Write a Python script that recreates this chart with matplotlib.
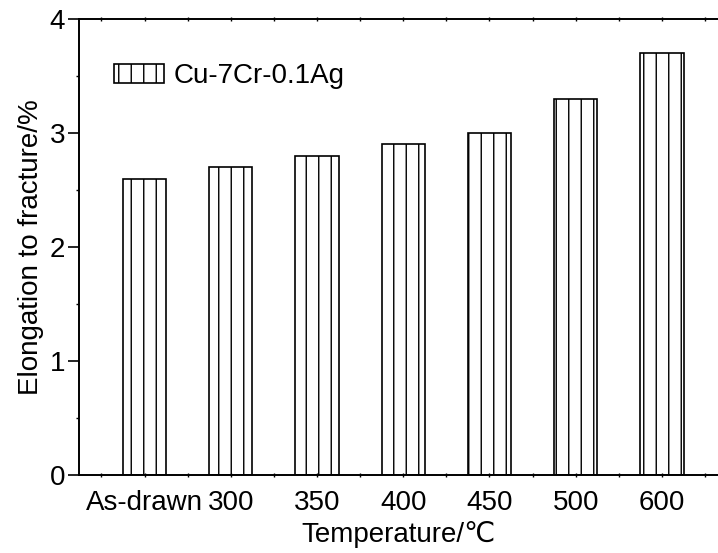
import numpy as np
import matplotlib
matplotlib.use("Agg")
from matplotlib import pyplot as plt
from matplotlib.ticker import MultipleLocator
import matplotlib.hatch as mhatch

plt.rcParams['font.family'] = ['Liberation Sans', 'DejaVu Sans']
plt.rcParams['hatch.linewidth'] = 1.0
plt.rcParams['hatch.color'] = 'black'

# a bit denser vertical hatch than the default '|'
_vinit = mhatch.VerticalHatch.__init__
def _dense_vinit(self, hatch, density):
    _vinit(self, hatch, density)
    self.num_lines = (hatch.count('|') + hatch.count('+')) * 8
    self.num_vertices = self.num_lines * 2
mhatch.VerticalHatch.__init__ = _dense_vinit

# data
categories = ['As-drawn', '300', '350', '400', '450', '500', '600']
elongation = [2.6, 2.7, 2.8, 2.9, 3.0, 3.3, 3.7]
series_name = 'Cu-7Cr-0.1Ag'

fig = plt.figure(figsize=(7.18, 5.53), dpi=100)
ax = fig.add_axes([79/718, 1-475/553, 1-79/718, (475-19)/553])

x = np.arange(len(categories))
ax.bar(x, elongation, width=0.5, facecolor='white', edgecolor='black',
       linewidth=1.2, hatch='|', label=series_name)

ax.set_xlim(-0.76, 6.65)
ax.set_ylim(0, 4)

# y axis ticks
ax.yaxis.set_major_locator(MultipleLocator(1))
ax.yaxis.set_minor_locator(MultipleLocator(0.5))
ax.tick_params(axis='y', which='major', direction='out', length=8, width=1.2,
               labelsize=20, pad=2)
ax.tick_params(axis='y', which='minor', direction='out', length=2.5, width=1.0)

# x axis ticks
ax.set_xticks(x)
ax.set_xticklabels(categories)
ax.xaxis.set_minor_locator(MultipleLocator(0.5))
ax.tick_params(axis='x', which='both', direction='inout', length=3, width=1.0,
               top=True, labelsize=20, pad=9)

for s in ['left', 'bottom', 'top']:
    ax.spines[s].set_linewidth(1.4)
ax.spines['right'].set_visible(False)

ax.set_xlabel('Temperature/℃', fontsize=20, labelpad=4)
ax.set_ylabel('Elongation to fracture/%', fontsize=20, labelpad=4)

leg = ax.legend(loc='center left', bbox_to_anchor=(114/718, 1-76/553),
                bbox_transform=fig.transFigure, frameon=False, fontsize=20,
                handlelength=1.8, handleheight=0.65, handletextpad=0.35,
                borderpad=0, borderaxespad=0)

fig.savefig('out.png', dpi=100)
